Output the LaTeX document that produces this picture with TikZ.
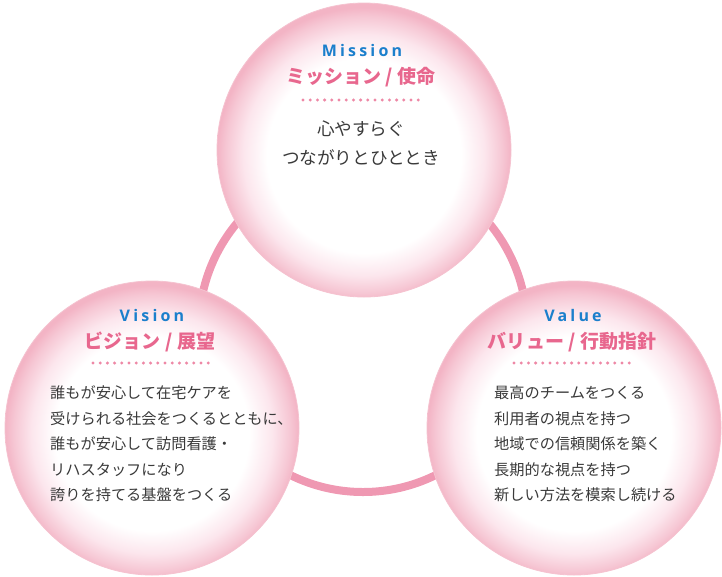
\documentclass[tikz,border=0pt]{standalone}
\usepackage{fontspec}
\setmainfont{Noto Sans CJK JP}
\newfontfamily\enfont[LetterSpace=20]{Open Sans}
\usetikzlibrary{positioning}
\definecolor{ringpink}{HTML}{EF98B2}
\definecolor{enblue}{HTML}{1B7FCC}
\definecolor{titlepink}{HTML}{E8678E}
\definecolor{bodygray}{HTML}{3A3A3A}
\definecolor{dotpink}{HTML}{EE88A6}
\definecolor{bubbleedge}{HTML}{F3B4C5}
\definecolor{bubblerim}{HTML}{F6C7D4}
\definecolor{bubblemid}{HTML}{FCE6ED}
\definecolor{bubbleline}{HTML}{F5C3D0}
\pgfdeclareradialshading{bubble}{\pgfpoint{0bp}{-1.5bp}}{%
  color(0bp)=(white); color(16.5bp)=(white); color(20.5bp)=(bubblemid);
  color(23.5bp)=(bubblerim); color(25bp)=(bubbleedge); color(50bp)=(bubbleedge)}
\tikzset{
  ringline/.style={draw=ringpink, line width=8pt},
  bubblenode/.style={circle, draw=bubbleline, line width=0.8pt, shading=bubble, minimum size=294pt, inner sep=0pt},
  entitle/.style={font=\enfont\bfseries\fontsize{16}{16}\selectfont, text=enblue, inner sep=0pt},
  jptitle/.style={font=\bfseries\fontsize{19}{19}\selectfont, text=titlepink, inner sep=0pt},
  bodytext/.style={font=\fontsize{15.2}{25.5}\selectfont, text=bodygray, align=left, inner sep=0pt},
  dotline/.style={draw=dotpink, line width=3.3pt, line cap=round, dash pattern=on 0pt off 7.2pt},
}
\begin{document}
\begin{tikzpicture}[x=1pt, y=-1pt]
  \useasboundingbox (0,0) rectangle (722,576);
  % ring behind the circles
  \coordinate (ringc) at (363,328);
  \draw[ringline] (ringc) circle[radius=164pt];

  \node[bubblenode] (mission) at (364,150) {};
  \node[bubblenode] (vision) at (152,428) {};
  \node[bubblenode] (value) at (574,428) {};

  % Mission
  \node[entitle] (missionen) at (362,50) {Mission};
  \node[jptitle] (missionjp) at (361,77) {ミッション / 使命};
  \coordinate (md1) at (303,100);
  \coordinate (md2) at (419,100);
  \draw[dotline] (md1) -- (md2);
  \node[bodytext, align=center, font=\fontsize{17.6}{29}\selectfont] (missionbody) at (361,143)
    {心やすらぐ\\つながりとひととき};

  % Vision
  \node[entitle] (visionen) at (152,315) {Vision};
  \node[jptitle] (visionjp) at (150,342) {ビジョン / 展望};
  \coordinate (vd1) at (93,363);
  \coordinate (vd2) at (209,363);
  \draw[dotline] (vd1) -- (vd2);
  \node[bodytext, anchor=west] (visionbody) at (50,444)
    {誰もが安心して在宅ケアを\\受けられる社会をつくるとともに、\\誰もが安心して訪問看護・\\リハスタッフになり\\誇りを持てる基盤をつくる};

  % Value
  \node[entitle] (valueen) at (573,315) {Value};
  \node[jptitle] (valuejp) at (572,342) {バリュー / 行動指針};
  \coordinate (ad1) at (514,363);
  \coordinate (ad2) at (630,363);
  \draw[dotline] (ad1) -- (ad2);
  \node[bodytext, anchor=west] (valuebody) at (494,444)
    {最高のチームをつくる\\利用者の視点を持つ\\地域での信頼関係を築く\\長期的な視点を持つ\\新しい方法を模索し続ける};
\end{tikzpicture}
\end{document}
